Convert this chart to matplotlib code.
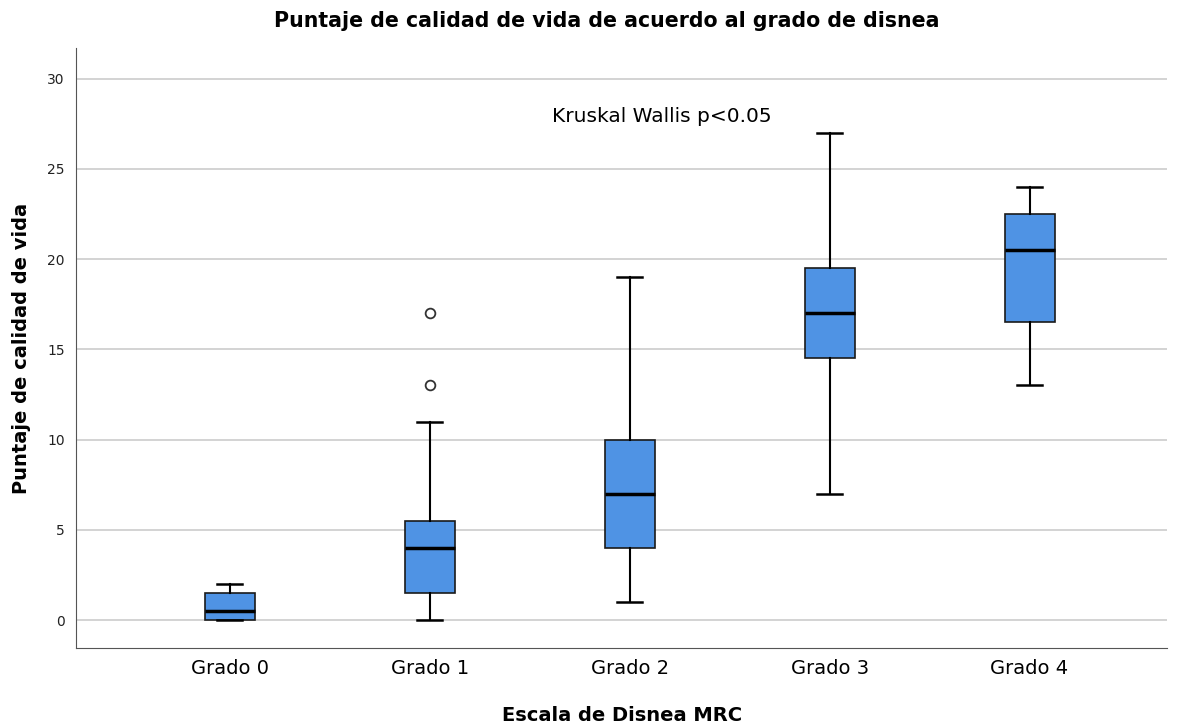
import matplotlib
matplotlib.use("Agg")
import matplotlib.pyplot as plt

grados = ["Grado 0", "Grado 1", "Grado 2", "Grado 3", "Grado 4"]
whis_lo = [0, 0, 1, 7, 13]
q1 = [0, 1.5, 4, 14.5, 16.5]
medians = [0.5, 4, 7, 17, 20.5]
q3 = [1.5, 5.5, 10, 19.5, 22.5]
whis_hi = [2, 11, 19, 27, 24]
outliers = [[], [13, 17], [], [], []]
yticks = [0, 5, 10, 15, 20, 25, 30]

stats = []
for i, g in enumerate(grados):
    stats.append({"label": g, "whislo": whis_lo[i], "q1": q1[i], "med": medians[i],
                  "q3": q3[i], "whishi": whis_hi[i], "fliers": outliers[i]})

fig = plt.figure(figsize=(11.8, 7.28), dpi=100)
ax = fig.add_axes([0.0644, 0.1099, 0.925, 0.824])

ax.bxp(stats, positions=range(len(grados)), widths=0.25, patch_artist=True,
       boxprops=dict(facecolor="#4f93e4", edgecolor="#1a1a1a", linewidth=1.2),
       medianprops=dict(color="black", linewidth=2.5),
       whiskerprops=dict(color="black", linewidth=1.5),
       capprops=dict(color="black", linewidth=1.8),
       capwidths=0.125,
       flierprops=dict(marker="o", markerfacecolor="white", markeredgecolor="#333333",
                       markersize=7, markeredgewidth=1.3),
       zorder=3)

ax.set_xlim(-0.77, 4.69)
ax.set_ylim(-1.55, 31.7)
ax.set_yticks(yticks)
ax.set_yticklabels([str(t) for t in yticks], fontsize=10, color="#222222")
ax.set_xticks(range(len(grados)))
ax.set_xticklabels(grados, fontsize=14)
ax.tick_params(axis="both", length=0, pad=8)
ax.yaxis.grid(True, color="#cccccc", linewidth=1.2, zorder=0)
ax.set_axisbelow(True)
for s in ["top", "right"]:
    ax.spines[s].set_visible(False)
for s in ["left", "bottom"]:
    ax.spines[s].set_color("#555555")

ax.text(2.16, 27.9, "Kruskal Wallis p<0.05", fontsize=14.5, ha="center", va="center")
ax.set_xlabel("Escala de Disnea MRC", fontsize=14, fontweight="bold", labelpad=20)
ax.set_ylabel("Puntaje de calidad de vida", fontsize=14, fontweight="bold", labelpad=12)
fig.suptitle("Puntaje de calidad de vida de acuerdo al grado de disnea",
             fontsize=14.8, fontweight="bold", y=0.985, x=0.514)

fig.savefig("out.png", dpi=100)
